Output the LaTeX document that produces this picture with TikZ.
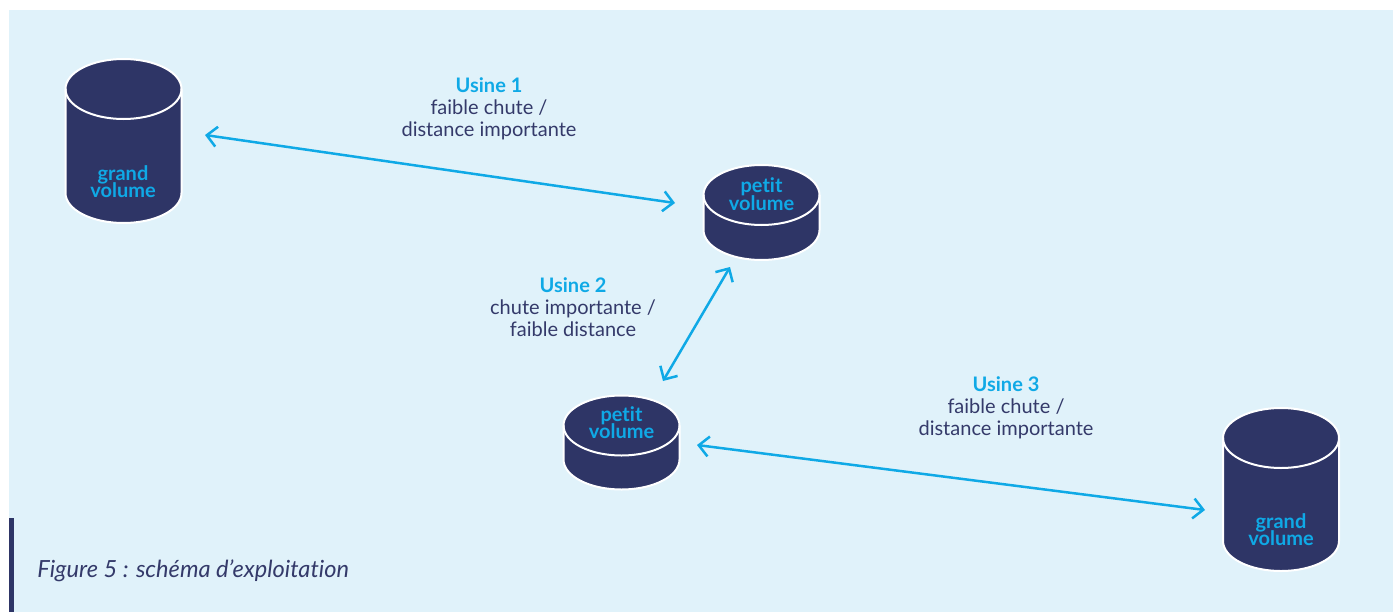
\documentclass[tikz,border=0pt]{standalone}
\usepackage{fontspec}
\setmainfont{Lato}[Ligatures=NoCommon]
\usetikzlibrary{arrows.meta}
\definecolor{fond}{HTML}{E0F2FA}
\definecolor{marine}{HTML}{2E3566}
\definecolor{bleu}{HTML}{0FA9E6}
\definecolor{texte}{HTML}{343A6A}

\begin{document}
\begin{tikzpicture}[x=0.5pt,y=0.5pt,
    cuve/.style={fill=marine,draw=white,line width=1pt},
    volume/.style={text=bleu,font={\fontsize{10}{8.8}\selectfont\bfseries\lineskiplimit-5pt\relax},align=center,inner sep=0pt},
    usine/.style={text=texte,font=\fontsize{10}{11}\selectfont,align=center,inner sep=0pt},
    fleche/.style={draw=bleu,line width=1.25pt,
        {Straight Barb[length=5pt,width=10pt]}-{Straight Barb[length=5pt,width=10pt]}}]

    \useasboundingbox (0,0) rectangle (1396,612);
    \fill[fond] (9,0) rectangle (1393,602);
    \fill[marine] (9,0) rectangle (14,94);

    % les quatre reservoirs
    \foreach \cx/\hy/\by in {123.5/523/419, 761.5/417/382, 621.5/186.5/152.5, 1281/174/71}{
        \filldraw[cuve] (\cx-58,\hy) -- (\cx-58,\by)
            arc[start angle=180,end angle=360,x radius=29pt,y radius=15pt]
            -- (\cx+58,\hy)
            arc[start angle=0,end angle=180,x radius=29pt,y radius=15pt] -- cycle;
        \draw[white,line width=1pt] (\cx-58,\hy)
            arc[start angle=180,end angle=360,x radius=29pt,y radius=15pt];
    }

    \node[volume] (gv1) at (123,430.5) {grand\\volume};
    \node[volume] (pv1) at (761.5,418) {petit\\volume};
    \node[volume] (pv2) at (621.5,189.5) {petit\\volume};
    \node[volume] (gv2) at (1281,82.5) {grand\\volume};

    \node[usine] (u1) at (489,503) {\textcolor{bleu}{\bfseries Usine 1}\\faible chute /\\distance importante};
    \node[usine] (u2) at (573,305) {\textcolor{bleu}{\bfseries Usine 2}\\chute importante /\\faible distance};
    \node[usine] (u3) at (1006,204) {\textcolor{bleu}{\bfseries Usine 3}\\faible chute /\\distance importante};

    \coordinate (a1) at (205,477);
    \coordinate (b1) at (675,409);
    \coordinate (a2) at (730,345);
    \coordinate (b2) at (663,231);
    \coordinate (a3) at (697,167);
    \coordinate (b3) at (1205,102);
    \draw[fleche] (a1) -- (b1);
    \draw[fleche] (a2) -- (b2);
    \draw[fleche] (a3) -- (b3);

    \node[anchor=west,text=texte,font=\fontsize{11.8}{13}\selectfont\itshape,inner sep=0pt]
        (legende) at (37,41) {Figure 5 : schéma d’exploitation};
\end{tikzpicture}
\end{document}
